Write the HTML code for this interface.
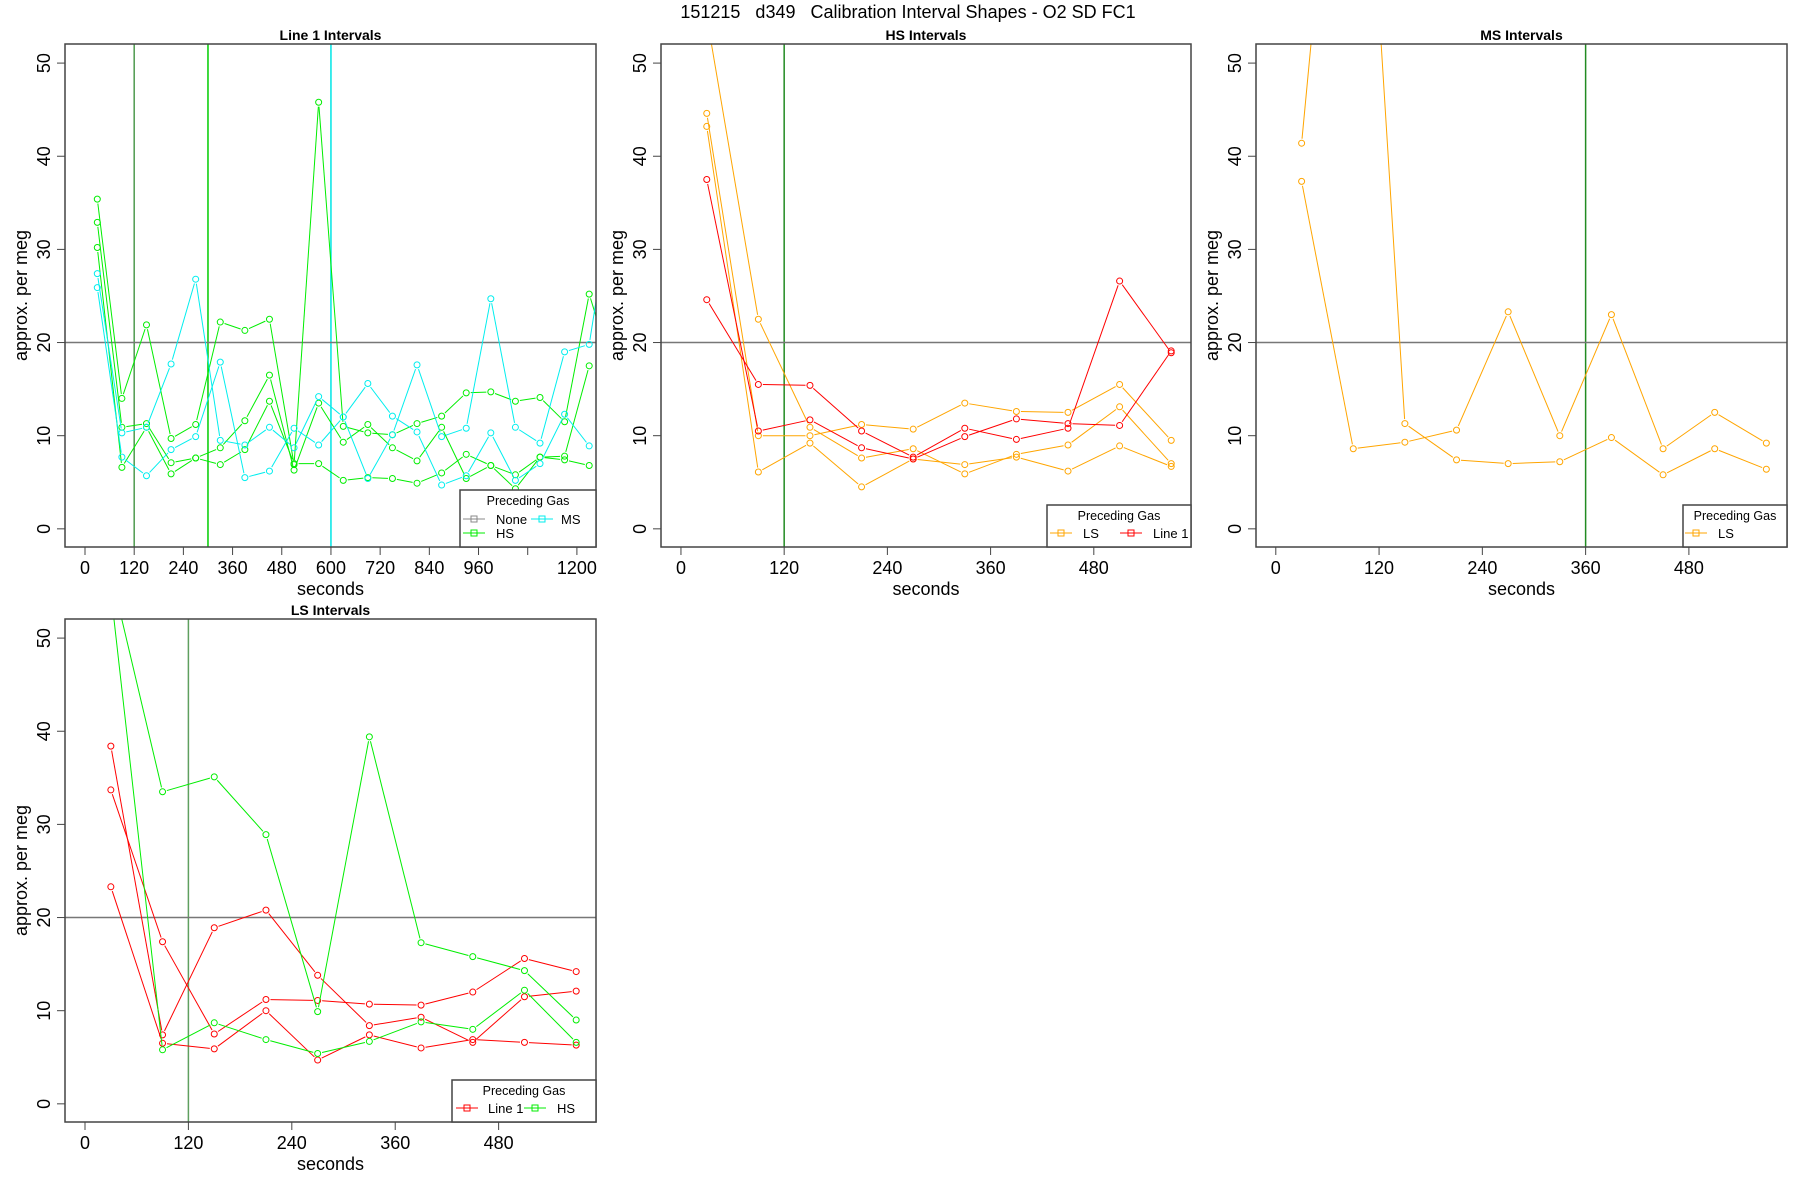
<!DOCTYPE html>
<html><head><meta charset="utf-8"><title>Calibration Interval Shapes</title>
<style>html,body{margin:0;padding:0;background:#fff}svg{display:block}text{font-family:"Liberation Sans",sans-serif}</style>
</head><body>
<svg id="chart" xmlns="http://www.w3.org/2000/svg" width="1800" height="1200" viewBox="0 0 1800 1200">
<rect width="1800" height="1200" fill="#fff"/>
<text x="908" y="18" text-anchor="middle" font-size="18" xml:space="preserve">151215   d349   Calibration Interval Shapes - O2 SD FC1</text>
</svg>
<script>
// ---- data ----
const xsL1 = [30,90,150,210,270,330,390,450,510,570,630,690,750,810,870,930,990,1050,1110,1170,1230,1290];
const l1HsA = [35.4,14,21.9,9.7,11.2,22.2,21.3,22.5,6.9,45.8,11,10.3,10.1,11.3,12.1,14.6,14.7,13.7,14.1,11.5,25.2,16.6];
const l1HsB = [32.9,10.9,11.3,7.1,7.6,8.7,11.6,16.5,6.3,13.5,9.3,11.2,8.7,7.3,10.9,5.4,6.8,4.3,7.7,7.8,17.5,null];
const l1HsC = [30.2,6.6,10.9,5.9,7.6,6.9,8.5,13.7,7.0,7.0,5.2,5.5,5.4,4.9,6.0,8.0,6.8,5.8,7.7,7.4,6.8,null];
const l1MsA = [27.4,10.3,10.9,17.7,26.8,9.5,9,10.9,8.7,14.2,12,5.4,10.1,17.6,9.9,10.8,24.7,10.9,9.2,19,19.8,36.5];
const l1MsB = [25.9,7.7,5.7,8.5,9.9,17.9,5.5,6.2,10.8,9,12,15.6,12.1,10.4,4.7,5.7,10.3,5.2,7,12.3,8.9,null];

const xs10 = [30,90,150,210,270,330,390,450,510,570];
const hsLsA = [55,22.5,10.9,7.6,8.6,5.9,8,9,13.1,7];
const hsLsB = [44.6,10,10,11.2,10.7,13.5,12.6,12.5,15.5,9.5];
const hsLsC = [43.2,6.1,9.2,4.5,7.5,6.9,7.7,6.2,8.9,6.7];
const hsL1A = [37.5,10.5,11.7,8.7,7.5,9.9,11.8,11.3,11.1,19.1];
const hsL1B = [24.6,15.5,15.4,10.5,7.7,10.8,9.6,10.8,26.6,18.9];

const msLsA = [41.4,100,11.3,7.4,7.0,7.2,9.8,5.8,8.6,6.4];
const msLsB = [37.3,8.6,9.3,10.6,23.3,10,23,8.6,12.5,9.2];

const lsL1A = [38.4,7.4,18.9,20.8,13.8,8.4,9.3,6.6,11.5,12.1];
const lsL1B = [33.7,17.4,7.5,11.2,11.1,10.7,10.6,12,15.6,14.2];
const lsL1C = [23.3,6.5,5.9,10,4.7,7.4,6,6.9,6.6,6.3];
const lsHsA = [55,5.8,8.7,6.9,5.4,6.7,8.8,8.0,12.2,6.6];
const lsHsB = [57,33.5,35.1,28.9,9.9,39.4,17.3,15.8,14.3,9.0];

const yTicks = [0,10,20,30,40,50];
const xTicksL1 = [0,120,240,360,480,600,720,840,960,1080,1200];
const xLabelsL1 = ["0","120","240","360","480","600","720","840","960","","1200"];
const xTicks6 = [0,120,240,360,480];

const ORANGE="#ffa500", RED="#ff0000", GREEN="#00ee00", CYAN="#00eeee", GREY="#888888";
const NS="http://www.w3.org/2000/svg";
const svg=document.getElementById('chart');
function mk(tag,attrs,parent){const e=document.createElementNS(NS,tag);for(const k in attrs)e.setAttribute(k,attrs[k]);(parent||svg).appendChild(e);return e;}

let clipId=0;
function panel(p){
  const g=mk('g',{});
  
  
  const X=v=>p.l+(v-p.xmin)/(p.xmax-p.xmin)*(p.r-p.l);
  const Y=v=>p.b-(v-(-1.95))/(52.05+1.95)*(p.b-p.t);
  const cid='clip'+(clipId++);
  const cp=mk('clipPath',{id:cid},g);mk('rect',{x:p.l,y:p.t,width:p.r-p.l,height:p.b-p.t},cp);
  const plot=mk('g',{'clip-path':'url(#'+cid+')'},g);
  p.vlines.forEach(v=>{const ln=mk('line',{x1:X(v[0]),x2:X(v[0]),y1:p.t,y2:p.b,stroke:v[1],'stroke-width':1.5},plot);
    
    });
  const h=mk('line',{x1:p.l,x2:p.r,y1:Y(20),y2:Y(20),stroke:'#777','stroke-width':1.5},plot);
  
  
  p.series.forEach(s=>{
    const sg=mk('g',{},plot);
    
    
    const pts=[];
    s.vals.forEach((v,i)=>{if(v!==null&&v!==undefined)pts.push([X(s.xs[i]),Y(v)]);});
    for(let i=0;i<pts.length-1;i++){
      const [x1,y1]=pts[i],[x2,y2]=pts[i+1];const dx=x2-x1,dy=y2-y1,d=Math.hypot(dx,dy),g0=4.5;
      if(d>2*g0) mk('line',{x1:x1+dx/d*g0,y1:y1+dy/d*g0,x2:x2-dx/d*g0,y2:y2-dy/d*g0,stroke:s.color,'stroke-width':1},sg);
    }
    pts.forEach(q=>{if(q[0]<=p.r-2)mk('circle',{cx:q[0],cy:q[1],r:3,fill:'none',stroke:s.color,'stroke-width':1},sg);});
  });
  mk('rect',{x:p.l,y:p.t,width:p.r-p.l,height:p.b-p.t,fill:'none',stroke:'#444','stroke-width':1.5},g);
  yTicks.forEach(v=>{const y=Y(v);mk('line',{x1:p.l-8,x2:p.l,y1:y,y2:y,stroke:'#444'},g);
    const t=mk('text',{x:p.l-15,y:y,'font-size':18,'text-anchor':'middle',transform:`rotate(-90 ${p.l-15} ${y})`},g);t.textContent=v;
    
    });
  p.xticks.forEach((v,i)=>{const x=X(v);mk('line',{x1:x,x2:x,y1:p.b,y2:p.b+8,stroke:'#444'},g);
    const t=mk('text',{x:x,y:p.b+27,'font-size':18,'text-anchor':'middle'},g);t.textContent=p.xlabels?p.xlabels[i]:v;
    
    });
  const xt=mk('text',{x:(p.l+p.r)/2,y:p.b+48,'font-size':18,'text-anchor':'middle'},g);xt.textContent='seconds';
  
  
  const yx=p.l-38,yy=(p.t+p.b)/2;
  const yt=mk('text',{x:yx,y:yy,'font-size':18,'text-anchor':'middle',transform:`rotate(-90 ${yx} ${yy})`},g);yt.textContent='approx. per meg';
  
  
  const tt=mk('text',{x:(p.l+p.r)/2,y:p.t-4,'font-size':14,'font-weight':'bold','text-anchor':'middle'},g);tt.textContent=p.title;
  
  
  const L=p.legend;const lg=mk('g',{},g);
  
  
  mk('rect',{x:L.x,y:L.y,width:p.r-L.x,height:p.b-L.y,fill:'#fff',stroke:'#444','stroke-width':1.5},lg);
  const lt=mk('text',{x:(L.x+p.r)/2,y:L.y+15,'font-size':12.5,'text-anchor':'middle'},lg);lt.textContent='Preceding Gas';
  L.items.forEach(it=>{const e=mk('g',{},lg);
    
    
    mk('line',{x1:it.sx,x2:it.sx+22,y1:it.y,y2:it.y,stroke:it.c},e);
    mk('rect',{x:it.sx+8,y:it.y-3,width:6,height:6,fill:'none',stroke:it.c},e);
    const t=mk('text',{x:it.tx,y:it.y+5,'font-size':13},e);t.textContent=it.label;});
}

panel({name:'panel-line1',title:'Line 1 Intervals',l:65,r:596,t:44,b:547,xmin:-48.8,xmax:1246.6,
  xticks:xTicksL1,xlabels:xLabelsL1,vlines:[[120,'#4f9a4f'],[300,'#00cc00'],[600,'#00e5e5']],
  series:[{name:'series-hs-a',xs:xsL1,vals:l1HsA,color:GREEN},{name:'series-hs-b',xs:xsL1,vals:l1HsB,color:GREEN},
    {name:'series-hs-c',xs:xsL1,vals:l1HsC,color:GREEN},{name:'series-ms-a',xs:xsL1,vals:l1MsA,color:CYAN},
    {name:'series-ms-b',xs:xsL1,vals:l1MsB,color:CYAN}],
  legend:{x:460,y:490,items:[{sx:463,tx:496,y:519,c:GREY,label:'None'},{sx:531,tx:561,y:519,c:CYAN,label:'MS'},{sx:463,tx:496,y:533,c:GREEN,label:'HS'}]}});
panel({name:'panel-hs',title:'HS Intervals',l:661,r:1191,t:44,b:547,xmin:-23.2,xmax:593,
  xticks:xTicks6,vlines:[[120,'#228b22']],
  series:[{name:'series-ls-a',xs:xs10,vals:hsLsA,color:ORANGE},{name:'series-ls-b',xs:xs10,vals:hsLsB,color:ORANGE},
    {name:'series-ls-c',xs:xs10,vals:hsLsC,color:ORANGE},{name:'series-line1-a',xs:xs10,vals:hsL1A,color:RED},
    {name:'series-line1-b',xs:xs10,vals:hsL1B,color:RED}],
  legend:{x:1047,y:505,items:[{sx:1050,tx:1083,y:533,c:ORANGE,label:'LS'},{sx:1120,tx:1153,y:533,c:RED,label:'Line 1'}]}});
panel({name:'panel-ms',title:'MS Intervals',l:1256,r:1787,t:44,b:547,xmin:-23,xmax:594,
  xticks:xTicks6,vlines:[[360,'#228b22']],
  series:[{name:'series-ls-a',xs:xs10,vals:msLsA,color:ORANGE},{name:'series-ls-b',xs:xs10,vals:msLsB,color:ORANGE}],
  legend:{x:1683,y:505,items:[{sx:1685,tx:1718,y:533,c:ORANGE,label:'LS'}]}});
panel({name:'panel-ls',title:'LS Intervals',l:65,r:596,t:619,b:1122,xmin:-23.2,xmax:593,
  xticks:xTicks6,vlines:[[120,'#5f9f5f']],
  series:[{name:'series-line1-a',xs:xs10,vals:lsL1A,color:RED},{name:'series-line1-b',xs:xs10,vals:lsL1B,color:RED},
    {name:'series-line1-c',xs:xs10,vals:lsL1C,color:RED},{name:'series-hs-a',xs:xs10,vals:lsHsA,color:GREEN},
    {name:'series-hs-b',xs:xs10,vals:lsHsB,color:GREEN}],
  legend:{x:452,y:1080,items:[{sx:456,tx:488,y:1108,c:RED,label:'Line 1'},{sx:524,tx:557,y:1108,c:GREEN,label:'HS'}]}});
</script>
</body></html>
